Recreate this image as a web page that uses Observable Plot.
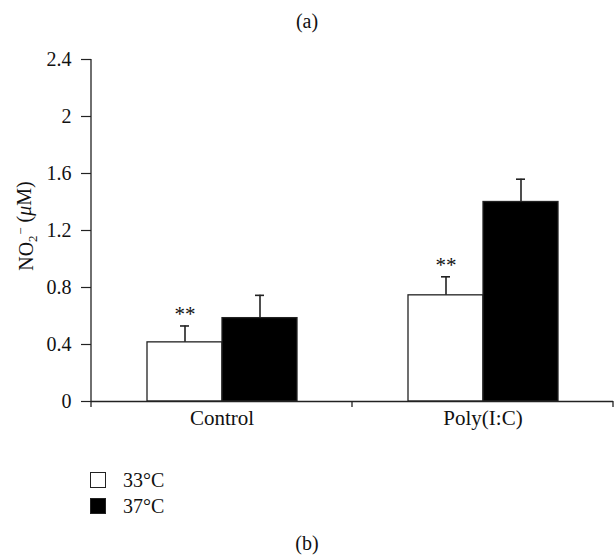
<!DOCTYPE html>
<html><head><meta charset="utf-8">
<script src="https://cdn.jsdelivr.net/npm/d3@7"></script>
<script src="https://cdn.jsdelivr.net/npm/@observablehq/plot@0.6"></script>
<style>
body{margin:0;background:#fff;font-family:"Liberation Serif",serif;color:#111}
#wrap{position:relative;width:614px;height:557px;overflow:hidden;background:#fff}
#chart{position:absolute;left:0;top:0}
.cap{position:absolute;left:0;width:614px;text-align:center;font-size:20px;line-height:22px}
#legend{position:absolute;left:90px;top:467px;font-size:20px}
.row{display:flex;align-items:center;height:26px}
.sw{width:16px;height:16px;border:1.3px solid #222;box-sizing:border-box;margin-right:17px}
</style></head><body>
<div id="wrap">
<div id="chart"></div>
<div class="cap" style="top:10px">(a)</div>
<div id="legend"></div>
<div class="cap" style="top:532px">(b)</div>
</div>
<script>
const groups = ["Control", "Poly(I:C)"];
const temps = ["33°C", "37°C"];
const tempColors = ["#ffffff", "#000000"];
const mean33 = [0.415, 0.745];
const mean37 = [0.585, 1.40];
const err33 = [0.115, 0.13];
const err37 = [0.16, 0.16];
const sig33 = ["**", "**"];
const sig37 = ["", ""];
const yTicks = [0, 0.4, 0.8, 1.2, 1.6, 2, 2.4];
const yDomain = [0, 2.4];

const data = [];
groups.forEach((g, i) => {
  data.push({group: g, temp: temps[0], value: mean33[i], hi: mean33[i] + err33[i], sig: sig33[i]});
  data.push({group: g, temp: temps[1], value: mean37[i], hi: mean37[i] + err37[i], sig: sig37[i]});
});

const ink = "#222";
const font = '"Liberation Serif", serif';
const chart = Plot.plot({
  width: 614, height: 450,
  marginTop: 59, marginBottom: 49, marginLeft: 90, marginRight: 1,
  style: {fontFamily: font, fontSize: "19px", color: "#111", background: "white"},
  fx: {domain: groups, padding: 0, label: null, axis: null},
  x: {domain: temps, paddingInner: 0, paddingOuter: 0.74, axis: null},
  y: {domain: yDomain, label: null, axis: null},
  color: {domain: temps, range: tempColors},
  marks: [
    Plot.axisY({ticks: yTicks, tickFormat: d => String(d), tickSize: 10, tickPadding: 10, fontSize: 20, label: null, stroke: ink, strokeWidth: 1.2}),
    Plot.axisFx({anchor: "bottom", tickSize: 0, tickPadding: 9, fontSize: 21, label: null}),
    Plot.barY(data, {fx: "group", x: "temp", y: "value", fill: "temp", stroke: ink, strokeWidth: 1.3}),
    Plot.ruleX(data, {fx: "group", x: "temp", y1: "value", y2: "hi", stroke: ink, strokeWidth: 1.6}),
    Plot.tickY(data, {fx: "group", x: "temp", y: "hi", insetLeft: 33, insetRight: 33, stroke: ink, strokeWidth: 1.6}),
    Plot.text(data.filter(d => d.sig), {fx: "group", x: "temp", y: "hi", text: "sig", dy: -12, fontSize: 21}),
    Plot.ruleY([0], {stroke: ink, strokeWidth: 1.3})
  ]
});
document.getElementById("chart").appendChild(chart);

// axis lines and boundary ticks from the library's scales
const svg = d3.select(chart);
const fx = chart.scale("fx"), y = chart.scale("y");
const bounds = groups.map(g => fx.apply(g)).concat([fx.apply(groups[groups.length - 1]) + fx.bandwidth]);
const y0 = y.apply(0);
svg.append("line").attr("x1", bounds[0]).attr("x2", bounds[0])
  .attr("y1", y.apply(yDomain[1])).attr("y2", y0 + 6).attr("stroke", ink).attr("stroke-width", 1.3);
bounds.slice(1).forEach(b => {
  svg.append("line").attr("x1", b).attr("x2", b).attr("y1", y0).attr("y2", y0 + 6)
    .attr("stroke", ink).attr("stroke-width", 1.3);
});

// y label NO2− (μM)
const lab = svg.append("text")
  .attr("transform", "translate(33,226) rotate(-90)")
  .attr("text-anchor", "middle")
  .attr("font-family", font)
  .attr("font-size", 20).attr("fill", "#111");
lab.append("tspan").text("NO");
lab.append("tspan").attr("font-size", 13).attr("dy", "0.3em").text("2");
lab.append("tspan").attr("font-size", 13).attr("dy", "-0.95em").attr("dx", "0.05em").text("−");
lab.append("tspan").attr("dy", "0.3em").text(" (");
lab.append("tspan").attr("font-style", "italic").text("μ");
lab.append("tspan").text("M)");

// legend
const leg = d3.select("#legend");
temps.forEach((t, i) => {
  const r = leg.append("div").attr("class", "row");
  r.append("div").attr("class", "sw").style("background", tempColors[i]);
  r.append("span").text(t);
});
</script>
</body></html>
